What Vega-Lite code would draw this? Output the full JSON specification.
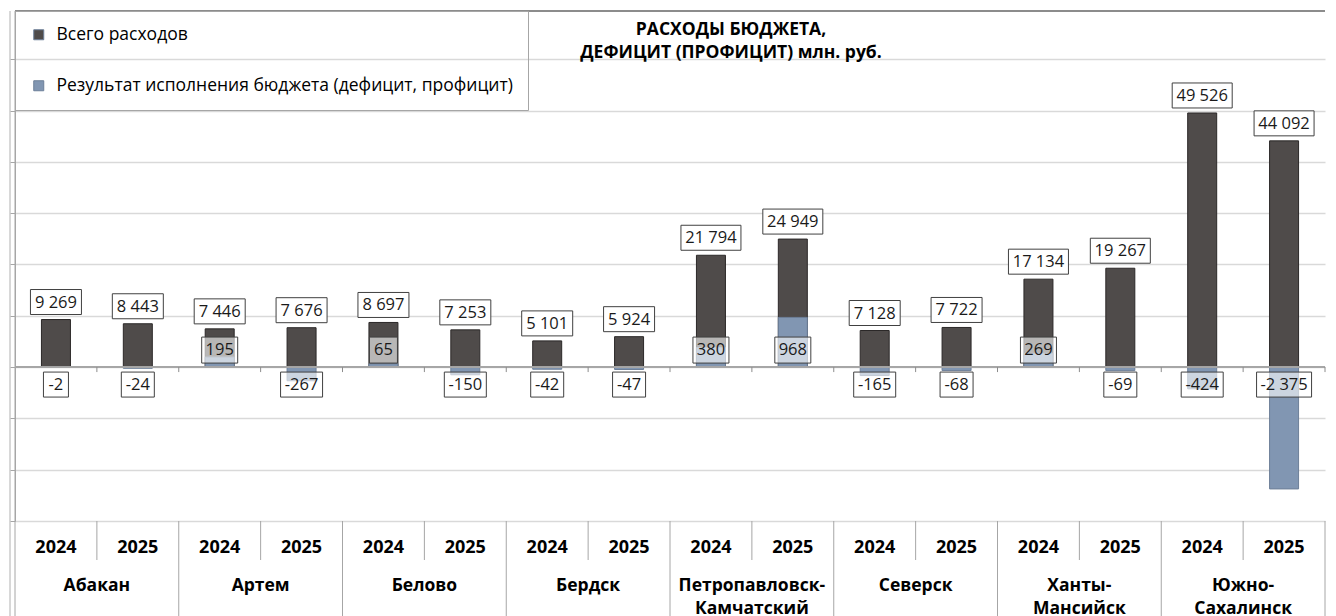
{
  "$schema": "https://vega.github.io/schema/vega-lite/v6.json",
  "width": 1310,
  "height": 510,
  "autosize": {"type": "none"},
  "padding": {"left": 15, "top": 11, "right": 11, "bottom": 95},
  "background": "white",
  "config": {"view": {"stroke": null}, "font": "Open Sans"},
  "title": {
    "text": ["РАСХОДЫ БЮДЖЕТА,", "ДЕФИЦИТ (ПРОФИЦИТ) млн. руб."],
    "font": "Open Sans", "fontSize": 17.5, "fontWeight": "bold", "color": "#000000",
    "lineHeight": 23, "anchor": "middle", "frame": "group", "dx": 61, "offset": -51
  },
  "data": {
    "values": [
      {"city": "Абакан", "year": "2024", "key": "Абакан 2024", "total": 9269, "result": -2},
      {"city": "Абакан", "year": "2025", "key": "Абакан 2025", "total": 8443, "result": -24},
      {"city": "Артем", "year": "2024", "key": "Артем 2024", "total": 7446, "result": 195},
      {"city": "Артем", "year": "2025", "key": "Артем 2025", "total": 7676, "result": -267},
      {"city": "Белово", "year": "2024", "key": "Белово 2024", "total": 8697, "result": 65},
      {"city": "Белово", "year": "2025", "key": "Белово 2025", "total": 7253, "result": -150},
      {"city": "Бердск", "year": "2024", "key": "Бердск 2024", "total": 5101, "result": -42},
      {"city": "Бердск", "year": "2025", "key": "Бердск 2025", "total": 5924, "result": -47},
      {"city": "Петропавловск-Камчатский", "year": "2024", "key": "Петропавловск-Камчатский 2024", "total": 21794, "result": 380},
      {"city": "Петропавловск-Камчатский", "year": "2025", "key": "Петропавловск-Камчатский 2025", "total": 24949, "result": 968},
      {"city": "Северск", "year": "2024", "key": "Северск 2024", "total": 7128, "result": -165},
      {"city": "Северск", "year": "2025", "key": "Северск 2025", "total": 7722, "result": -68},
      {"city": "Ханты-Мансийск", "year": "2024", "key": "Ханты-Мансийск 2024", "total": 17134, "result": 269},
      {"city": "Ханты-Мансийск", "year": "2025", "key": "Ханты-Мансийск 2025", "total": 19267, "result": -69},
      {"city": "Южно-Сахалинск", "year": "2024", "key": "Южно-Сахалинск 2024", "total": 49526, "result": -424},
      {"city": "Южно-Сахалинск", "year": "2025", "key": "Южно-Сахалинск 2025", "total": 44092, "result": -2375}
    ]
  },
  "transform": [
    {"calculate": "replace(replace(format(datum.total, ',d'), ',', ' '), '\u2212', '-')", "as": "tlabel"},
    {"calculate": "replace(replace(format(datum.result, ',d'), ',', ' '), '\u2212', '-')", "as": "rlabel"},
    {"calculate": "replace(datum.city, '-', '-|')", "as": "clabel"}
  ],
  "layer": [
    {
      "mark": {"type": "bar", "width": 29, "stroke": "#2b2828", "strokeWidth": 1},
      "encoding": {
        "x": {"field": "key", "type": "nominal", "sort": null, "scale": {"type": "band", "paddingInner": 0, "paddingOuter": 0}, "axis": null},
        "y": {
          "field": "total", "type": "quantitative",
          "scale": {"domain": [-30000, 69400], "nice": false, "zero": false},
          "axis": {
            "orient": "left", "title": null, "labels": false,
            "values": [-30000, -20000, -10000, 0, 10000, 20000, 30000, 40000, 50000, 60000],
            "tickSize": 5, "tickColor": "#a6a6a6", "domainColor": "#a6a6a6",
            "grid": true, "gridColor": "#d9d9d9", "gridWidth": 1.5
          }
        },
        "color": {
          "datum": "Всего расходов",
          "scale": {
            "domain": ["Всего расходов", "Результат исполнения бюджета (дефицит, профицит)"],
            "range": ["#4f4b4a", "#8196b2"]
          },
          "legend": {
            "orient": "none", "legendX": 0, "legendY": 0, "title": null,
            "strokeColor": "#a6a6a6", "padding": 15, "rowPadding": 32,
            "symbolType": "square", "symbolSize": 100, "symbolStrokeColor": "#333333", "symbolStrokeWidth": 1,
            "labelFont": "Open Sans", "labelFontSize": 17.5, "labelColor": "#000000",
            "labelOffset": 9, "labelLimit": 1000
          }
        }
      }
    },
    {
      "mark": {"type": "bar", "width": 29, "stroke": "#6d7f98", "strokeWidth": 1},
      "encoding": {
        "x": {"field": "key", "type": "nominal", "sort": null},
        "y": {
          "field": "result", "type": "quantitative",
          "scale": {"domain": [-3000, 6940], "nice": false, "zero": false},
          "axis": null
        },
        "color": {"datum": "Результат исполнения бюджета (дефицит, профицит)"}
      }
    },
    {
      "mark": {"type": "rule", "color": "#a6a6a6", "strokeWidth": 1},
      "encoding": {
        "y": {"datum": 0, "type": "quantitative", "axis": null, "scale": {"domain": [-30000, 69400], "nice": false, "zero": false}}
      }
    },
    {
      "mark": {"type": "rule", "color": "#8c8c8c", "strokeWidth": 1.5},
      "encoding": {
        "y": {"datum": 69400, "type": "quantitative", "axis": null, "scale": {"domain": [-30000, 69400], "nice": false, "zero": false}}
      }
    },
    {
      "mark": {"type": "rule", "color": "#8c8c8c", "strokeWidth": 1, "y2Offset": 5},
      "encoding": {
        "x": {"field": "key", "type": "nominal", "sort": null, "bandPosition": 1},
        "y": {"datum": 0, "type": "quantitative", "axis": null, "scale": {"domain": [-30000, 69400], "nice": false, "zero": false}},
        "y2": {"datum": 0}
      }
    },
    {
      "transform": [{"filter": "datum.year == '2025'"}],
      "mark": {"type": "rule", "color": "#a6a6a6", "strokeWidth": 1, "y2Offset": 39},
      "encoding": {
        "x": {"field": "key", "type": "nominal", "sort": null, "bandPosition": 0},
        "y": {"datum": -30000, "type": "quantitative", "axis": null, "scale": {"domain": [-30000, 69400], "nice": false, "zero": false}},
        "y2": {"datum": -30000}
      }
    },
    {
      "transform": [{"filter": "datum.year == '2025'"}],
      "mark": {"type": "rule", "color": "#a6a6a6", "strokeWidth": 1, "y2Offset": 95},
      "encoding": {
        "x": {"field": "key", "type": "nominal", "sort": null, "bandPosition": 1},
        "y": {"datum": -30000, "type": "quantitative", "axis": null, "scale": {"domain": [-30000, 69400], "nice": false, "zero": false}},
        "y2": {"datum": -30000}
      }
    },
    {
      "transform": [{"filter": "datum.key == 'Абакан 2024'"}],
      "mark": {"type": "rule", "color": "#a6a6a6", "strokeWidth": 1, "y2Offset": 95},
      "encoding": {
        "x": {"field": "key", "type": "nominal", "sort": null, "bandPosition": 0},
        "y": {"datum": 69400, "type": "quantitative", "axis": null, "scale": {"domain": [-30000, 69400], "nice": false, "zero": false}},
        "y2": {"datum": -30000}
      }
    },
    {
      "transform": [{"filter": "datum.key == 'Абакан 2024'"}],
      "mark": {"type": "rule", "color": "#b0b0b0", "strokeWidth": 1, "y2Offset": 95, "xOffset": -5},
      "encoding": {
        "x": {"field": "key", "type": "nominal", "sort": null, "bandPosition": 0},
        "y": {"datum": 69400, "type": "quantitative", "axis": null, "scale": {"domain": [-30000, 69400], "nice": false, "zero": false}},
        "y2": {"datum": -30000}
      }
    },
    {
      "mark": {"type": "text", "dy": 27, "baseline": "middle", "align": "center", "font": "Open Sans", "fontSize": 18, "fontWeight": "bold", "color": "#000000"},
      "encoding": {
        "x": {"field": "key", "type": "nominal", "sort": null, "bandPosition": 0.5},
        "y": {"datum": -30000, "type": "quantitative", "axis": null, "scale": {"domain": [-30000, 69400], "nice": false, "zero": false}},
        "text": {"field": "year"}
      }
    },
    {
      "transform": [{"filter": "datum.year == '2024'"}],
      "mark": {"type": "text", "dy": 56, "baseline": "top", "align": "center", "lineBreak": "|", "lineHeight": 23, "font": "Open Sans", "fontSize": 17.5, "fontWeight": "bold", "color": "#000000"},
      "encoding": {
        "x": {"field": "key", "type": "nominal", "sort": null, "bandPosition": 1},
        "y": {"datum": -30000, "type": "quantitative", "axis": null, "scale": {"domain": [-30000, 69400], "nice": false, "zero": false}},
        "text": {"field": "clabel"}
      }
    },
    {
      "transform": [{"filter": "datum.total < 10000"}],
      "mark": {"type": "bar", "width": 51, "fill": "#ffffff", "stroke": "#404040", "strokeWidth": 1, "yOffset": -30, "y2Offset": -5},
      "encoding": {
        "x": {"field": "key", "type": "nominal", "sort": null},
        "y": {"field": "total", "type": "quantitative", "axis": null, "scale": {"domain": [-30000, 69400], "nice": false, "zero": false}},
        "y2": {"field": "total"}
      }
    },
    {
      "transform": [{"filter": "datum.total >= 10000"}],
      "mark": {"type": "bar", "width": 60, "fill": "#ffffff", "stroke": "#404040", "strokeWidth": 1, "yOffset": -30, "y2Offset": -5},
      "encoding": {
        "x": {"field": "key", "type": "nominal", "sort": null},
        "y": {"field": "total", "type": "quantitative", "axis": null, "scale": {"domain": [-30000, 69400], "nice": false, "zero": false}},
        "y2": {"field": "total"}
      }
    },
    {
      "mark": {"type": "text", "dy": -17, "baseline": "middle", "align": "center", "font": "Open Sans", "fontSize": 16.5, "color": "#1a1a1a"},
      "encoding": {
        "x": {"field": "key", "type": "nominal", "sort": null, "bandPosition": 0.5},
        "y": {"field": "total", "type": "quantitative", "axis": null, "scale": {"domain": [-30000, 69400], "nice": false, "zero": false}},
        "text": {"field": "tlabel"}
      }
    },
    {
      "transform": [{"filter": "datum.result >= 0 && datum.result < 100"}],
      "mark": {"type": "bar", "width": 28, "fill": "#ffffff", "fillOpacity": 0.6, "stroke": "#404040", "strokeWidth": 1, "yOffset": -30, "y2Offset": -4},
      "encoding": {
        "x": {"field": "key", "type": "nominal", "sort": null},
        "y": {"datum": 0, "type": "quantitative", "axis": null, "scale": {"domain": [-30000, 69400], "nice": false, "zero": false}},
        "y2": {"datum": 0}
      }
    },
    {
      "transform": [{"filter": "datum.result >= 100"}],
      "mark": {"type": "bar", "width": 36, "fill": "#ffffff", "fillOpacity": 0.6, "stroke": "#404040", "strokeWidth": 1, "yOffset": -30, "y2Offset": -4},
      "encoding": {
        "x": {"field": "key", "type": "nominal", "sort": null},
        "y": {"datum": 0, "type": "quantitative", "axis": null, "scale": {"domain": [-30000, 69400], "nice": false, "zero": false}},
        "y2": {"datum": 0}
      }
    },
    {
      "transform": [{"filter": "datum.result < 0 && datum.result > -10"}],
      "mark": {"type": "bar", "width": 25, "fill": "#ffffff", "fillOpacity": 0.6, "stroke": "#404040", "strokeWidth": 1, "yOffset": 5, "y2Offset": 30},
      "encoding": {
        "x": {"field": "key", "type": "nominal", "sort": null},
        "y": {"datum": 0, "type": "quantitative", "axis": null, "scale": {"domain": [-30000, 69400], "nice": false, "zero": false}},
        "y2": {"datum": 0}
      }
    },
    {
      "transform": [{"filter": "datum.result <= -10 && datum.result > -100"}],
      "mark": {"type": "bar", "width": 33, "fill": "#ffffff", "fillOpacity": 0.6, "stroke": "#404040", "strokeWidth": 1, "yOffset": 5, "y2Offset": 30},
      "encoding": {
        "x": {"field": "key", "type": "nominal", "sort": null},
        "y": {"datum": 0, "type": "quantitative", "axis": null, "scale": {"domain": [-30000, 69400], "nice": false, "zero": false}},
        "y2": {"datum": 0}
      }
    },
    {
      "transform": [{"filter": "datum.result <= -100 && datum.result > -1000"}],
      "mark": {"type": "bar", "width": 42, "fill": "#ffffff", "fillOpacity": 0.6, "stroke": "#404040", "strokeWidth": 1, "yOffset": 5, "y2Offset": 30},
      "encoding": {
        "x": {"field": "key", "type": "nominal", "sort": null},
        "y": {"datum": 0, "type": "quantitative", "axis": null, "scale": {"domain": [-30000, 69400], "nice": false, "zero": false}},
        "y2": {"datum": 0}
      }
    },
    {
      "transform": [{"filter": "datum.result <= -1000"}],
      "mark": {"type": "bar", "width": 55, "fill": "#ffffff", "fillOpacity": 0.6, "stroke": "#404040", "strokeWidth": 1, "yOffset": 5, "y2Offset": 30},
      "encoding": {
        "x": {"field": "key", "type": "nominal", "sort": null},
        "y": {"datum": 0, "type": "quantitative", "axis": null, "scale": {"domain": [-30000, 69400], "nice": false, "zero": false}},
        "y2": {"datum": 0}
      }
    },
    {
      "transform": [{"filter": "datum.result >= 0"}],
      "mark": {"type": "text", "dy": -17, "baseline": "middle", "align": "center", "font": "Open Sans", "fontSize": 16.5, "color": "#1a1a1a"},
      "encoding": {
        "x": {"field": "key", "type": "nominal", "sort": null, "bandPosition": 0.5},
        "y": {"datum": 0, "type": "quantitative", "axis": null, "scale": {"domain": [-30000, 69400], "nice": false, "zero": false}},
        "text": {"field": "rlabel"}
      }
    },
    {
      "transform": [{"filter": "datum.result < 0"}],
      "mark": {"type": "text", "dy": 18, "baseline": "middle", "align": "center", "font": "Open Sans", "fontSize": 16.5, "color": "#1a1a1a"},
      "encoding": {
        "x": {"field": "key", "type": "nominal", "sort": null, "bandPosition": 0.5},
        "y": {"datum": 0, "type": "quantitative", "axis": null, "scale": {"domain": [-30000, 69400], "nice": false, "zero": false}},
        "text": {"field": "rlabel"}
      }
    }
  ],
  "resolve": {"scale": {"y": "independent"}, "axis": {"y": "independent"}}
}
